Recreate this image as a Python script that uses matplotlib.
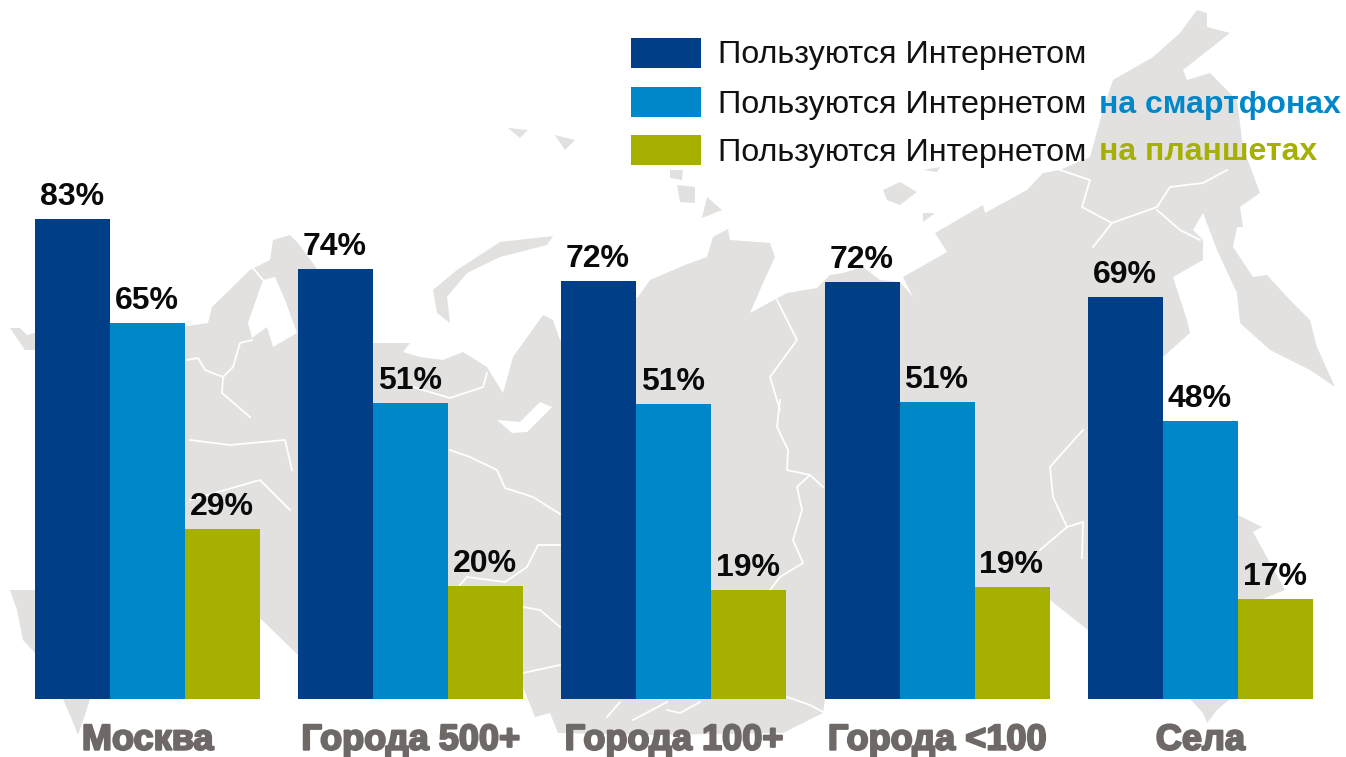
import matplotlib
matplotlib.use('Agg')
import matplotlib.pyplot as plt
import matplotlib.patheffects as pe
from matplotlib.patches import Polygon

categories = ['Москва', 'Города 500+', 'Города 100+', 'Города <100', 'Села']
internet = [82.8, 74.1, 72.1, 71.9, 69.3]
smartphone = [64.8, 51.0, 50.9, 51.2, 47.9]
tablet = [29.3, 19.5, 18.8, 19.3, 17.2]
internet_labels = ['83%', '74%', '72%', '72%', '69%']
smartphone_labels = ['65%', '51%', '51%', '51%', '48%']
tablet_labels = ['29%', '20%', '19%', '19%', '17%']

DARK = '#003f87'
BLUE = '#0087c9'
OLIVE = '#a5b000'
MAP = '#e2e1e0'

# background map, rough outline in pixels
russia = [(110, 340), (180, 327), (208, 323), (212, 307), (250, 270), (270, 260), (273, 240),
          (290, 235), (298, 243), (340, 300), (373, 343), (410, 343), (403, 352), (420, 357),
          (443, 360), (463, 352), (487, 367), (503, 393), (513, 357), (543, 315), (553, 320),
          (560, 340), (600, 310), (638, 297), (650, 280), (685, 265), (707, 257), (713, 237),
          (728, 229), (730, 240), (770, 243), (775, 257), (763, 283), (750, 313), (787, 293),
          (817, 288), (830, 275), (843, 273), (863, 267), (880, 280), (900, 282), (913, 297),
          (903, 277), (947, 252), (935, 233), (983, 205), (985, 213), (1027, 190), (1043, 173),
          (1060, 170), (1090, 157), (1103, 110), (1113, 80), (1153, 57), (1180, 33), (1197, 10),
          (1207, 13), (1207, 27), (1230, 33), (1183, 70), (1187, 80), (1210, 73), (1237, 100),
          (1243, 147), (1260, 193), (1240, 207), (1243, 227), (1237, 227), (1233, 247),
          (1253, 277), (1267, 275), (1290, 300), (1310, 320), (1317, 347), (1335, 387),
          (1310, 370), (1270, 350), (1240, 323), (1237, 293), (1217, 250), (1203, 213),
          (1193, 230), (1203, 240), (1203, 260), (1173, 277), (1187, 320), (1190, 333),
          (1163, 357), (1140, 450), (1100, 640), (1088, 630), (1050, 600), (1000, 690),
          (825, 699), (823, 713), (803, 723), (783, 733), (650, 735), (558, 733), (550, 713),
          (535, 717), (523, 687), (450, 680), (298, 655), (262, 620), (200, 600), (110, 600)]
novaya_zemlya = [(553, 236), (500, 242), (457, 270), (433, 290), (437, 313), (450, 323),
                 (447, 297), (467, 273), (500, 257), (547, 245)]
other_land = [[(10, 328), (20, 328), (27, 335), (35, 333), (35, 350), (25, 350)],
              [(10, 590), (35, 590), (35, 653), (23, 640), (17, 610)],
              [(63, 699), (90, 699), (85, 715), (78, 735), (72, 720)],
              [(1190, 699), (1230, 699), (1217, 710), (1207, 723), (1203, 713)],
              [(1238, 515), (1262, 527), (1253, 532), (1285, 590), (1260, 600), (1238, 600)],
              [(670, 170), (683, 170), (682, 180), (670, 178)],
              [(677, 185), (695, 187), (695, 203), (680, 202)],
              [(707, 197), (722, 210), (702, 218)],
              [(883, 190), (900, 182), (917, 192), (900, 205), (887, 200)],
              [(923, 213), (935, 213), (923, 222)],
              [(923, 170), (940, 167), (937, 172)],
              [(508, 128), (528, 130), (520, 138)],
              [(555, 135), (575, 140), (565, 150)]]
water = [[(263, 280), (248, 323), (252, 338), (267, 327), (273, 347), (297, 333), (285, 300), (275, 277)],
         [(497, 420), (512, 433), (527, 432), (552, 407), (540, 402), (520, 422)]]
borders = [[(450, 450), (470, 457), (497, 470), (505, 488), (533, 497), (560, 514)],
           [(523, 607), (540, 610), (560, 627)],
           [(523, 673), (560, 665)],
           [(560, 545), (538, 545), (527, 567), (505, 582), (467, 577), (460, 585)],
           [(780, 400), (777, 427), (788, 450), (787, 470), (810, 475), (823, 487)],
           [(810, 475), (797, 487), (802, 510), (793, 540), (803, 563), (780, 577), (770, 590)],
           [(787, 697), (810, 705), (823, 712)],
           [(620, 702), (607, 717)],
           [(667, 702), (633, 720)],
           [(667, 710), (680, 713), (700, 702)],
           [(777, 300), (797, 340), (770, 377), (780, 410)],
           [(1060, 170), (1090, 180), (1082, 207), (1112, 223), (1093, 247)],
           [(1112, 223), (1157, 207), (1170, 187), (1203, 183), (1227, 170)],
           [(1157, 210), (1180, 230), (1200, 240)],
           [(1083, 430), (1065, 450), (1050, 467), (1053, 497), (1067, 527), (1083, 522), (1082, 558)],
           [(1067, 527), (1040, 550)],
           [(187, 360), (198, 358), (205, 370), (223, 377), (222, 393), (250, 417)],
           [(223, 377), (233, 367), (240, 343), (252, 340)],
           [(252, 267), (263, 280)],
           [(413, 387), (450, 398), (483, 387), (487, 373)],
           [(190, 440), (230, 445), (285, 440), (292, 470)],
           [(190, 500), (260, 480), (290, 510)]]

fig = plt.figure(figsize=(13.46, 7.57), dpi=100)

bg = fig.add_axes([0, 0, 1, 1])
bg.set_xlim(0, 1346)
bg.set_ylim(757, 0)
bg.axis('off')
bg.add_patch(Polygon(russia, facecolor=MAP, edgecolor='none'))
for p in [novaya_zemlya] + other_land:
    bg.add_patch(Polygon(p, facecolor=MAP, edgecolor='none'))
for p in water:
    bg.add_patch(Polygon(p, facecolor='white', edgecolor='none'))
for b in borders:
    bg.plot(*zip(*b), color='white', lw=1.3)

ax = fig.add_axes([0, 0, 1, 1], facecolor='none')
ax.set_xlim(-147.5 / 263.2, (1346 - 147.5) / 263.2)
ax.set_ylim(-58 / 5.8, 699 / 5.8)
ax.axis('off')

w = 75 / 263.2
x = range(len(categories))
series = [(internet, internet_labels, DARK, -w), (smartphone, smartphone_labels, BLUE, 0),
          (tablet, tablet_labels, OLIVE, w)]
for vals, labels, color, off in series:
    ax.bar([i + off for i in x], vals, w, color=color, linewidth=0)
    for i, v, lab in zip(x, vals, labels):
        ax.text(i + off - 0.003, v + 1.25, lab, ha='center', va='bottom', fontsize=23,
                fontweight='bold', family='Liberation Sans', color='#0a0a0a')

for i, c in zip(x, categories):
    ax.text(i, -7.1, c, ha='center', va='center', fontsize=26, fontweight='bold',
            family='Liberation Sans', color='#6e6867',
            path_effects=[pe.withStroke(linewidth=1.5, foreground='#6e6867')])

# legend, drawn by hand so the coloured word can follow the black text
leg_y = [53, 102, 150]
leg_colors = [DARK, BLUE, OLIVE]
leg_extra = ['', 'на смартфонах', 'на планшетах']
for y, color, extra in zip(leg_y, leg_colors, leg_extra):
    bg.add_patch(plt.Rectangle((631, y - 15), 70, 30, facecolor=color, edgecolor='none', zorder=5))
    bg.text(718, y + 2.5, 'Пользуются Интернетом', ha='left', va='center', fontsize=23.3,
            family='Liberation Sans', color='#111111', zorder=5)
    if extra:
        bg.text(1099, y + 2.5, extra, ha='left', va='center', fontsize=23, fontweight='bold',
                family='Liberation Sans', color=color, zorder=5)

fig.savefig('out.png', dpi=100)
